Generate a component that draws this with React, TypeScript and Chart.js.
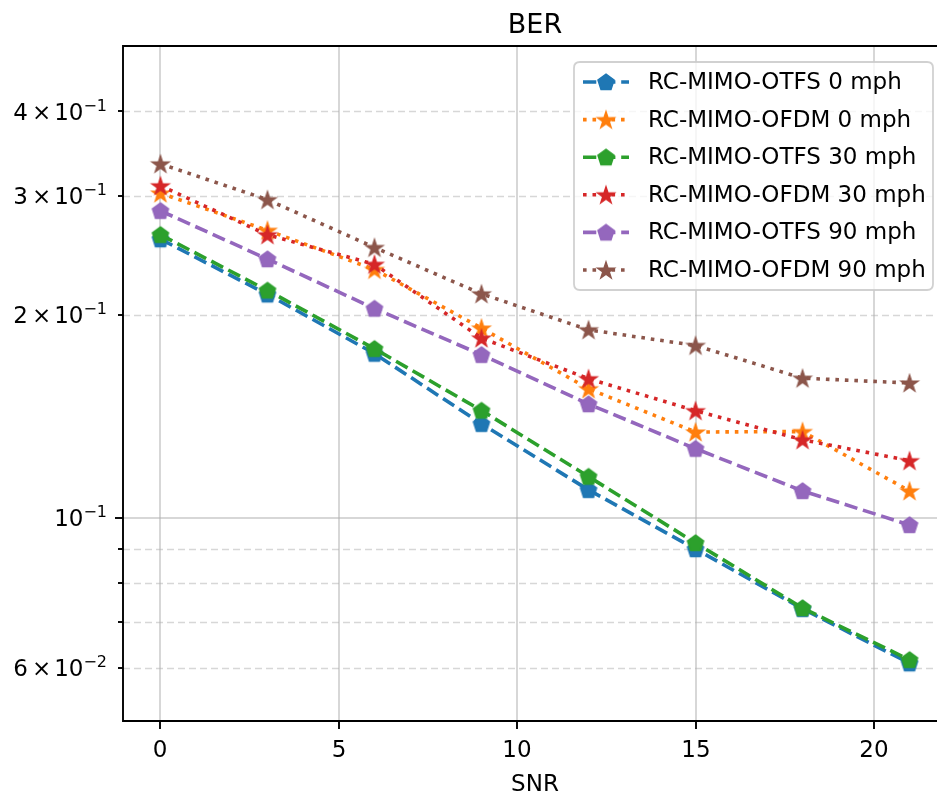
import React, { useEffect, useRef } from "react";
import { Chart, registerables } from "chart.js";

Chart.register(...registerables);

// ---------- data ----------
const snr = [0, 3, 6, 9, 12, 15, 18, 21];
const otfs0 = [0.2587, 0.2143, 0.1751, 0.1378, 0.11, 0.0899, 0.0733, 0.0609];
const ofdm0 = [0.3027, 0.2666, 0.2333, 0.191, 0.1553, 0.134, 0.1342, 0.1096];
const otfs30 = [0.2626, 0.2172, 0.178, 0.1442, 0.1151, 0.0918, 0.0735, 0.0616];
const ofdm30 = [0.3104, 0.2626, 0.2374, 0.1846, 0.1607, 0.1441, 0.1305, 0.1215];
const otfs90 = [0.285, 0.2417, 0.2042, 0.1744, 0.1474, 0.1266, 0.1096, 0.0976];
const ofdm90 = [0.3345, 0.296, 0.2515, 0.2147, 0.1899, 0.18, 0.161, 0.1584];

const seriesLabels = [
  "RC-MIMO-OTFS 0 mph",
  "RC-MIMO-OFDM 0 mph",
  "RC-MIMO-OTFS 30 mph",
  "RC-MIMO-OFDM 30 mph",
  "RC-MIMO-OTFS 90 mph",
  "RC-MIMO-OFDM 90 mph",
];
const seriesValues = [otfs0, ofdm0, otfs30, ofdm30, otfs90, ofdm90];
const seriesColors = ["#1f77b4", "#ff7f0e", "#2ca02c", "#d62728", "#9467bd", "#8c564b"];
const seriesKinds = ["otfs", "ofdm", "otfs", "ofdm", "otfs", "ofdm"];

const xTicks = [0, 5, 10, 15, 20];
const yMajorTicks = [0.1];
const yMinorTicks = [0.06, 0.07, 0.08, 0.09, 0.2, 0.3, 0.4];
const yLabelValues = [0.06, 0.1, 0.2, 0.3, 0.4];
const yLabelMantissa = ["6", "", "2", "3", "4"];
const yLabelExponent = ["2", "1", "1", "1", "1"];

const titleText = "BER";
const xAxisTitle = "SNR";

// ---------- styles ----------
const FONT = "DejaVu Sans";
const LW = 3.6;
const DASHED = [13.3, 5.8];
const DOTTED = [3.6, 5.9];
const GRID_COLOR = "rgba(176,176,176,0.5)";

function makeMarker(kind: string, color: string): HTMLCanvasElement {
  const c = document.createElement("canvas");
  c.width = 24;
  c.height = 24;
  const g = c.getContext("2d")!;
  g.fillStyle = color;
  g.strokeStyle = color;
  g.lineJoin = "miter";
  g.beginPath();
  if (kind === "otfs") {
    const r = 8.5;
    for (let k = 0; k < 5; k++) {
      const a = -Math.PI / 2 + (k * 2 * Math.PI) / 5;
      const px = 12 + r * Math.cos(a);
      const py = 12.6 + r * Math.sin(a);
      if (k === 0) g.moveTo(px, py);
      else g.lineTo(px, py);
    }
  } else {
    const ro = 8.8;
    const ri = ro * 0.381966;
    for (let k = 0; k < 10; k++) {
      const a = -Math.PI / 2 + (k * Math.PI) / 5;
      const r = k % 2 === 0 ? ro : ri;
      const px = 12 + r * Math.cos(a);
      const py = 12.8 + r * Math.sin(a);
      if (k === 0) g.moveTo(px, py);
      else g.lineTo(px, py);
    }
  }
  g.closePath();
  g.fill();
  g.lineWidth = 1.4;
  g.stroke();
  return c;
}

function drawYLabel(ctx: CanvasRenderingContext2D, y: number, mant: string, exp: string) {
  const right = 107;
  const mainFont = `23px ${FONT}`;
  const supFont = `16px ${FONT}`;
  const base = y + 8.6;
  ctx.textAlign = "left";
  ctx.textBaseline = "alphabetic";
  ctx.fillStyle = "#000";
  ctx.font = supFont;
  const supText = "\u2212" + exp;
  const wSup = ctx.measureText(supText).width;
  const supX = right - wSup;
  ctx.fillText(supText, supX, base - 9.5);
  ctx.font = mainFont;
  const w10 = ctx.measureText("10").width;
  const tenX = supX - w10;
  ctx.fillText("10", tenX, base);
  if (mant) {
    const wT = ctx.measureText("\u00d7").width;
    const tX = tenX - 3 - wT;
    ctx.fillText("\u00d7", tX, base);
    const wM = ctx.measureText(mant).width;
    ctx.fillText(mant, tX - 4 - wM, base);
  }
}

let markers: HTMLCanvasElement[] = [];

const decorPlugin = {
  id: "decor",
  beforeDatasetsDraw(chart: any) {
    const { ctx, chartArea: a } = chart;
    const xs = chart.scales.x;
    const ys = chart.scales.y;
    ctx.save();
    ctx.strokeStyle = GRID_COLOR;
    ctx.lineWidth = 2;
    ctx.setLineDash([]);
    xTicks.forEach((v) => {
      const px = Math.round(xs.getPixelForValue(v));
      ctx.beginPath();
      ctx.moveTo(px, a.top);
      ctx.lineTo(px, a.bottom);
      ctx.stroke();
    });
    yMajorTicks.forEach((v) => {
      const py = Math.round(ys.getPixelForValue(v));
      ctx.beginPath();
      ctx.moveTo(a.left, py);
      ctx.lineTo(a.right, py);
      ctx.stroke();
    });
    ctx.lineWidth = 1.6;
    ctx.setLineDash([7, 4]);
    yMinorTicks.forEach((v) => {
      const py = Math.round(ys.getPixelForValue(v)) + 0.5;
      ctx.beginPath();
      ctx.moveTo(a.left, py);
      ctx.lineTo(a.right, py);
      ctx.stroke();
    });
    ctx.restore();
  },
  afterDatasetsDraw(chart: any) {
    const { ctx, chartArea: a } = chart;
    const xs = chart.scales.x;
    const ys = chart.scales.y;
    ctx.save();
    ctx.setLineDash([]);
    ctx.strokeStyle = "#000";
    ctx.lineWidth = 1.9;
    ctx.lineCap = "square";
    // spines (left, bottom, top; the right one lies outside the visible page)
    ctx.beginPath();
    ctx.moveTo(a.right + 5, a.top);
    ctx.lineTo(a.left, a.top);
    ctx.lineTo(a.left, a.bottom);
    ctx.lineTo(a.right + 5, a.bottom);
    ctx.stroke();
    ctx.lineCap = "butt";
    // x ticks
    ctx.fillStyle = "#000";
    ctx.font = `23px ${FONT}`;
    ctx.textAlign = "center";
    ctx.textBaseline = "alphabetic";
    xTicks.forEach((v) => {
      const px = Math.round(xs.getPixelForValue(v));
      ctx.beginPath();
      ctx.moveTo(px, a.bottom);
      ctx.lineTo(px, a.bottom + 8);
      ctx.stroke();
      ctx.fillText(String(v), px, 757);
    });
    // y ticks
    yMajorTicks.forEach((v) => {
      const py = Math.round(ys.getPixelForValue(v));
      ctx.beginPath();
      ctx.moveTo(a.left - 8, py);
      ctx.lineTo(a.left, py);
      ctx.stroke();
    });
    yMinorTicks.forEach((v) => {
      const py = Math.round(ys.getPixelForValue(v));
      ctx.beginPath();
      ctx.moveTo(a.left - 5, py);
      ctx.lineTo(a.left, py);
      ctx.stroke();
    });
    yLabelValues.forEach((v, i) => {
      drawYLabel(ctx, ys.getPixelForValue(v), yLabelMantissa[i], yLabelExponent[i]);
    });
    // axis title & chart title
    ctx.textAlign = "center";
    ctx.font = `23px ${FONT}`;
    ctx.fillText(xAxisTitle, (a.left + a.right) / 2, 791);
    ctx.font = `27px ${FONT}`;
    ctx.fillText(titleText, (a.left + a.right) / 2, 33);
    ctx.restore();
  },
  afterDraw(chart: any) {
    const { ctx } = chart;
    ctx.save();
    // legend box
    const bx = 574, by = 62, bw = 359, bh = 228, r = 6;
    ctx.beginPath();
    ctx.moveTo(bx + r, by);
    ctx.lineTo(bx + bw - r, by);
    ctx.quadraticCurveTo(bx + bw, by, bx + bw, by + r);
    ctx.lineTo(bx + bw, by + bh - r);
    ctx.quadraticCurveTo(bx + bw, by + bh, bx + bw - r, by + bh);
    ctx.lineTo(bx + r, by + bh);
    ctx.quadraticCurveTo(bx, by + bh, bx, by + bh - r);
    ctx.lineTo(bx, by + r);
    ctx.quadraticCurveTo(bx, by, bx + r, by);
    ctx.closePath();
    ctx.fillStyle = "rgba(255,255,255,0.8)";
    ctx.fill();
    ctx.strokeStyle = "rgba(204,204,204,0.9)";
    ctx.lineWidth = 1.8;
    ctx.stroke();
    seriesLabels.forEach((lab, i) => {
      const cy = 82 + i * 37.6;
      ctx.strokeStyle = seriesColors[i];
      ctx.lineWidth = LW;
      ctx.lineCap = "butt";
      ctx.setLineDash(seriesKinds[i] === "otfs" ? DASHED : DOTTED);
      ctx.beginPath();
      ctx.moveTo(583, cy);
      ctx.lineTo(629, cy);
      ctx.stroke();
      ctx.setLineDash([]);
      const m = markers[i];
      ctx.drawImage(m, 606 - m.width / 2, cy - m.height / 2);
      ctx.fillStyle = "#000";
      ctx.font = `23px ${FONT}`;
      ctx.textAlign = "left";
      ctx.textBaseline = "middle";
      ctx.fillText(lab, 648, cy + 1);
    });
    ctx.restore();
  },
};

export default function App() {
  const ref = useRef<HTMLCanvasElement | null>(null);
  useEffect(() => {
    markers = seriesColors.map((c, i) => makeMarker(seriesKinds[i], c));
    const datasets = seriesLabels.map((lab, i) => ({
      label: lab,
      data: snr.map((x, j) => ({ x, y: seriesValues[i][j] })),
      borderColor: seriesColors[i],
      backgroundColor: seriesColors[i],
      borderWidth: LW,
      borderDash: seriesKinds[i] === "otfs" ? DASHED : DOTTED,
      borderCapStyle: "butt" as const,
      pointStyle: markers[i],
      pointRadius: 6,
      pointHoverRadius: 6,
      tension: 0,
      fill: false,
      order: seriesLabels.length - i,
    }));
    const chart = new Chart(ref.current!, {
      type: "line",
      data: { datasets },
      options: {
        animation: false,
        responsive: false,
        devicePixelRatio: 1,
        layout: { padding: { left: 123, top: 46, right: 13, bottom: 73 } },
        plugins: { legend: { display: false }, tooltip: { enabled: false }, title: { display: false } },
        scales: {
          x: { type: "linear", min: -1.05, max: 22.05, display: false },
          y: { type: "logarithmic", min: 0.05, max: 0.5, display: false },
        },
      },
      plugins: [decorPlugin],
    });
    return () => chart.destroy();
  }, []);
  return (
    <div style={{ position: "fixed", left: 0, top: 0, width: 937, height: 794, overflow: "hidden", background: "#fff" }}>
      <canvas ref={ref} width={960} height={794} style={{ display: "block", width: 960, height: 794 }} />
    </div>
  );
}
